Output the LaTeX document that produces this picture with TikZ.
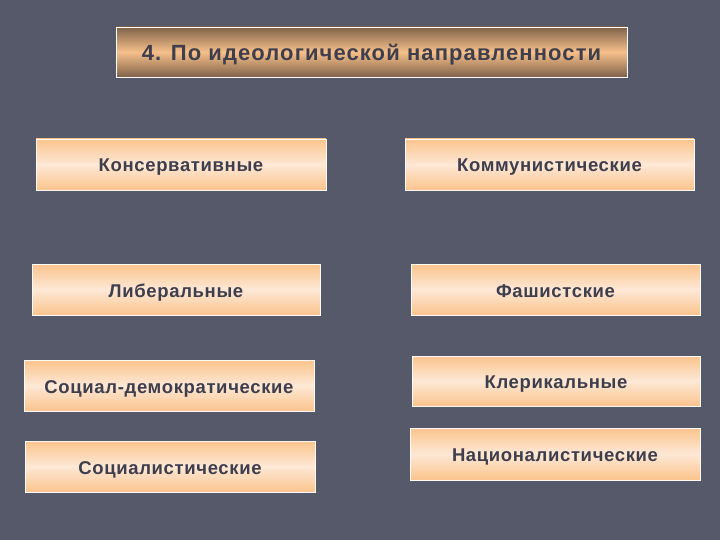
\documentclass[tikz,border=0pt]{standalone}
\usepackage{fontspec}
\setmainfont{Liberation Sans}
\newfontfamily\boxfont[LetterSpace=3.5]{Liberation Sans}
\newfontfamily\titlefont[LetterSpace=5]{Liberation Sans}
\definecolor{bg}{RGB}{85,89,105}
\definecolor{txt}{RGB}{62,62,76}
\definecolor{peachedge}{RGB}{251,196,140}
\definecolor{peachmid}{RGB}{253,232,214}
\definecolor{brownedge}{RGB}{128,98,74}
\definecolor{titlemid}{RGB}{246,192,138}
\tikzset{
  itembox/.style={draw=white!92!peachedge, line width=0.8pt, minimum width=289pt, minimum height=51pt,
    top color=peachedge, bottom color=peachedge, middle color=peachmid, shading=axis,
    text=txt, font=\boxfont\bfseries\fontsize{18.5}{20}\selectfont, inner sep=0pt,
    text height=16pt, text depth=1pt},
  titlebox/.style={draw=white, line width=0.9pt, minimum width=511pt, minimum height=50pt,
    top color=brownedge, bottom color=brownedge, middle color=titlemid, shading=axis,
    text=txt, font=\titlefont\bfseries\fontsize{22}{24}\selectfont, inner sep=0pt,
    text height=19pt, text depth=1pt}
}
\begin{document}
\begin{tikzpicture}[x=1pt,y=-1pt]
\fill[bg] (0,0) rectangle (720,540);
\useasboundingbox (0,0) rectangle (720,540);
\node[titlebox] (t) at (371.5,52) {4. По идеологической направленности};
\node[itembox, minimum width=290pt] (l1) at (181,164.5) {Консервативные};
\node[itembox, minimum width=288pt] (l2) at (176,289.5) {Либеральные};
\node[itembox, minimum width=290pt] (l3) at (169,385.5) {Социал-демократические};
\node[itembox, minimum width=290pt] (l4) at (170,466.5) {Социалистические};
\node[itembox] (r1) at (549.5,164.5) {Коммунистические};
\node[itembox] (r2) at (555.5,289.5) {Фашистские};
\node[itembox, minimum width=288pt, minimum height=50pt] (r3) at (556,381) {Клерикальные};
\node[itembox, minimum width=290pt, minimum height=52pt] (r4) at (555,454) {Националистические};
\end{tikzpicture}
\end{document}
